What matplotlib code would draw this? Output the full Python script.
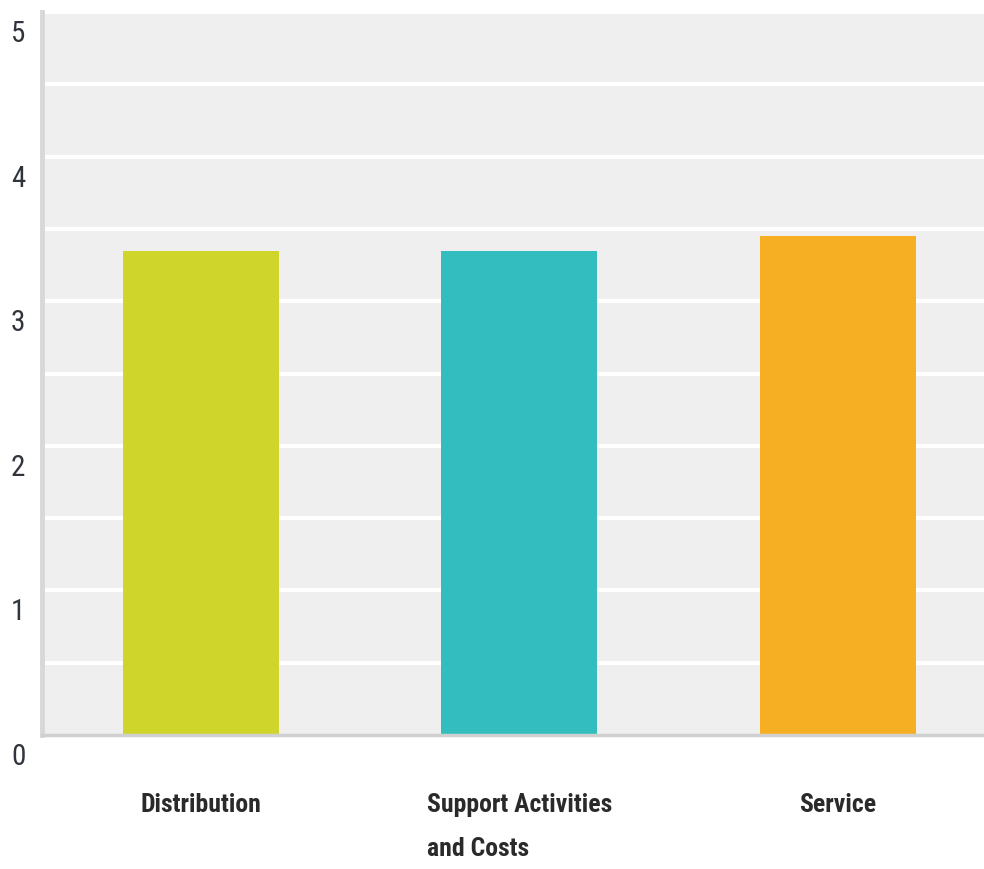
import matplotlib
matplotlib.use('Agg')
import matplotlib.pyplot as plt
import matplotlib.transforms as mtransforms

# average rating per area
categories = ['Distribution', 'Support Activities\nand Costs', 'Service']
scores = [3.35, 3.35, 3.45]
colors = ['#CFD52A', '#33BDBF', '#F6AF22']
yticks = [0, 1, 2, 3, 4, 5]

plt.rcParams['font.family'] = ['Roboto Condensed', 'DejaVu Sans']

fig = plt.figure(figsize=(9.84, 8.69), dpi=100)
ax = fig.add_axes([42 / 984, (869 - 735) / 869, 942 / 984, (735 - 12) / 869])
ax.set_facecolor('#EFEFEF')

x = list(range(len(categories)))
ax.bar(x, scores, width=0.49, color=colors, zorder=3)

ax.set_xlim(-0.5, 2.46)
ax.set_ylim(0, 5)

# white half-step grid
for g in [i * 0.5 for i in range(1, 11)]:
    ax.axhline(g, color='white', lw=3, zorder=1)

for side in ['top', 'right']:
    ax.spines[side].set_visible(False)
ax.spines['left'].set_color('#D8D8D8')
ax.spines['left'].set_linewidth(3.5)
ax.spines['bottom'].set_color('#D0D0D0')
ax.spines['bottom'].set_linewidth(2.5)
ax.spines['left'].set_zorder(4)
ax.spines['bottom'].set_zorder(4)

ax.set_yticks(yticks)
ax.set_yticklabels([str(t) for t in yticks], fontsize=21, color='#30343C')
ax.tick_params(axis='y', length=0, pad=12)
for lbl in ax.get_yticklabels():
    lbl.set_va('top')
    lbl.set_transform(lbl.get_transform() +
                      mtransforms.ScaledTranslation(0, -8 / 100, fig.dpi_scale_trans))

ax.set_xticks([])
for xi, name in zip(x, categories):
    ax.annotate(name, xy=(xi, 0), xycoords=('data', 'axes fraction'),
                xytext=(0, -42), textcoords='offset points',
                ha='center', va='top', multialignment='left',
                fontsize=18.5, fontweight='bold', color='#2A2A2A', linespacing=2.05,
                annotation_clip=False)

plt.savefig('out.png', dpi=100)
